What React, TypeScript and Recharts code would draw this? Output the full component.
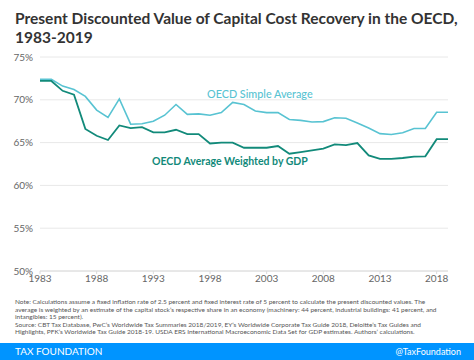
import React from 'react';
import { LineChart, Line, XAxis, YAxis, CartesianGrid } from 'recharts';

const years = [
    1983, 1984, 1985, 1986, 1987, 1988, 1989, 1990, 1991, 1992, 1993, 1994,
    1995, 1996, 1997, 1998, 1999, 2000, 2001, 2002, 2003, 2004, 2005, 2006,
    2007, 2008, 2009, 2010, 2011, 2012, 2013, 2014, 2015, 2016, 2017, 2018, 2019,
];

const simpleAverage = [
    72.4, 72.4, 71.6, 71.2, 70.4, 68.8, 67.95, 70.1, 67.15, 67.2, 67.5, 68.2,
    69.45, 68.3, 68.35, 68.2, 68.5, 69.7, 69.45, 68.7, 68.5, 68.5, 67.7, 67.6,
    67.4, 67.45, 67.9, 67.85, 67.3, 66.7, 66.05, 65.95, 66.15, 66.65, 66.65, 68.55, 68.55,
];

const weightedByGdp = [
    72.2, 72.2, 71.05, 70.6, 66.6, 65.8, 65.3, 67.0, 66.7, 66.8, 66.2, 66.2,
    66.5, 66.0, 66.0, 64.9, 65.0, 65.0, 64.4, 64.4, 64.4, 64.6, 63.7, 63.9,
    64.1, 64.3, 64.8, 64.7, 64.95, 63.5, 63.1, 63.1, 63.2, 63.35, 63.4, 65.4, 65.4,
];

const xTicks = [1983, 1988, 1993, 1998, 2003, 2008, 2013, 2018];
const yTicks = [50, 55, 60, 65, 70, 75];

const noteLines = [
    'Note: Calculations assume a fixed inflation rate of 2.5 percent and fixed interest rate of 5 percent to calculate the present discounted values. The',
    'average is weighted by an estimate of the capital stock’s respective share in an economy (machinery: 44 percent, industrial buildings: 41 percent, and',
    'intangibles: 15 percent).',
    'Source: CBT Tax Database, PwC’s Worldwide Tax Summaries 2018/2019, EY’s Worldwide Corporate Tax Guide 2018, Deloitte’s Tax Guides and',
    'Highlights, PFK’s Worldwide Tax Guide 2018-19. USDA ERS International Macroeconomic Data Set for GDP estimates. Authors’ calculations.',
];

const data = years.map((year, i) => ({
    year,
    simple: simpleAverage[i],
    weighted: weightedByGdp[i],
}));

const LIGHT = '#58c3d2';
const DARK = '#128a7a';
const FONT = 'Lato, "Open Sans", sans-serif';

export default function App() {
    return (
        <div style={{ position: 'fixed', left: 0, top: 0, width: 474, height: 360, background: '#fff', fontFamily: FONT, overflow: 'hidden' }}>
            {/* title */}
            <div style={{ position: 'absolute', left: 15, top: 9, width: 460, fontSize: 15.5, fontWeight: 700, lineHeight: '18.5px', color: '#333' }}>
                Present Discounted Value of Capital Cost Recovery in the OECD,<br />1983-2019
            </div>

            <div style={{ position: 'absolute', left: 0, top: 0 }}>
                <LineChart width={474} height={295} data={data} margin={{ top: 57, right: 26, left: 0, bottom: 5 }}>
                    <CartesianGrid stroke="#e8e8e8" vertical={false} />
                    <XAxis
                        dataKey="year"
                        type="number"
                        domain={[1983, 2019]}
                        ticks={xTicks}
                        height={19}
                        stroke="#dcdcdc"
                        tickSize={3}
                        tickMargin={1}
                        tick={{ fill: '#666', fontSize: 10, fontFamily: FONT }}
                    />
                    <YAxis
                        domain={[50, 75]}
                        ticks={yTicks}
                        width={40}
                        axisLine={false}
                        tickLine={false}
                        tickSize={0}
                        tickMargin={7}
                        tickFormatter={(v: number) => `${v}%`}
                        tick={{ fill: '#666', fontSize: 10, fontFamily: FONT }}
                    />
                    <Line dataKey="simple" stroke={LIGHT} strokeWidth={1.6} dot={false} isAnimationActive={false} />
                    <Line dataKey="weighted" stroke={DARK} strokeWidth={1.8} dot={false} isAnimationActive={false} />
                </LineChart>
            </div>

            {/* series labels */}
            <div style={{ position: 'absolute', left: 207, top: 87, fontSize: 10.8, color: LIGHT, fontWeight: 500, whiteSpace: 'nowrap' }}>
                OECD Simple Average
            </div>
            <div style={{ position: 'absolute', left: 152, top: 155, fontSize: 10.5, color: DARK, fontWeight: 700, whiteSpace: 'nowrap' }}>
                OECD Average Weighted by GDP
            </div>

            {/* note */}
            <div style={{ position: 'absolute', left: 15, top: 298, fontSize: 6.5, lineHeight: '7.5px', color: '#555', whiteSpace: 'nowrap' }}>
                {noteLines.map((l) => (
                    <div key={l}>{l}</div>
                ))}
            </div>

            {/* footer */}
            <div style={{ position: 'absolute', left: 0, top: 343, width: 474, height: 17, background: '#0094ff', color: '#fff' }}>
                <span style={{ position: 'absolute', left: 15, top: 2, fontSize: 10 }}>TAX FOUNDATION</span>
                <span style={{ position: 'absolute', right: 13, top: 3, fontSize: 9 }}>@TaxFoundation</span>
            </div>
        </div>
    );
}
